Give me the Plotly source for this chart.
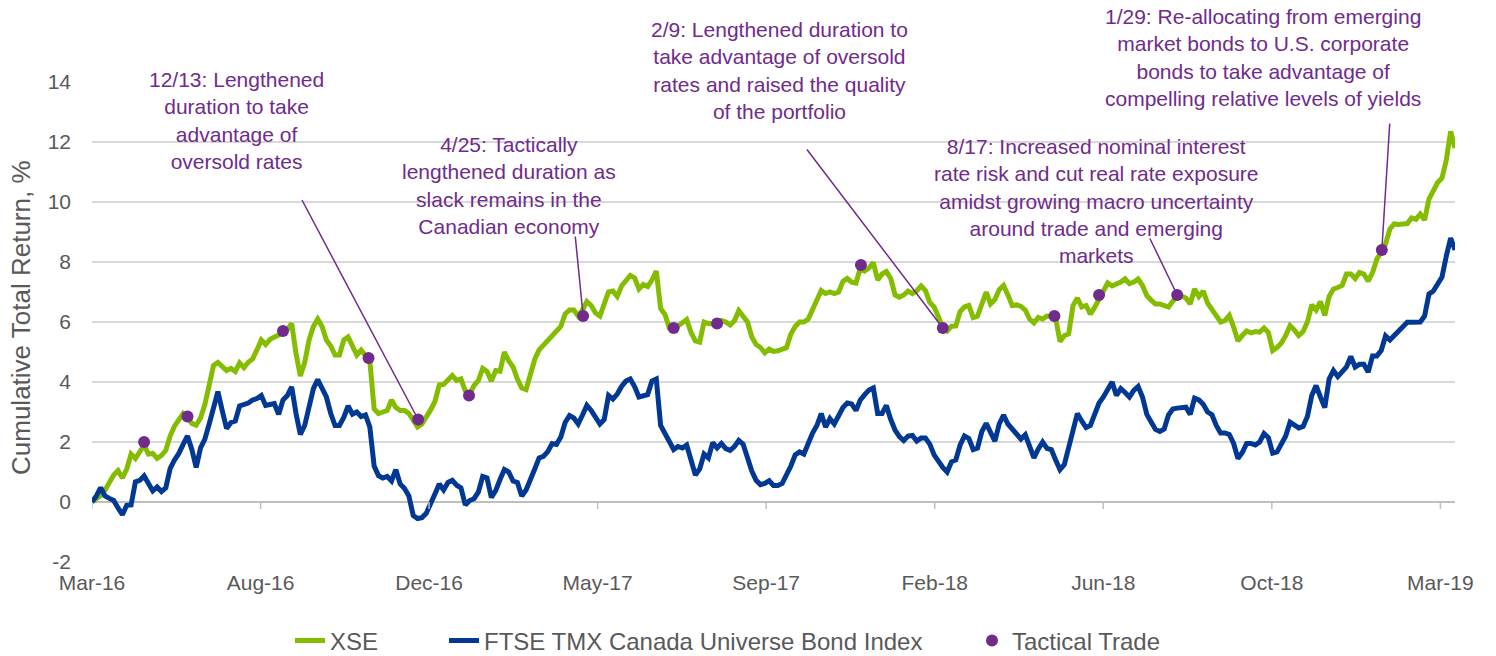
import pandas as pd
import plotly.graph_objects as go

# Twice-weekly cumulative total return, %, starting late March 2016
xse = [
    0.0, 0.1, 0.22, 0.4, 0.63, 0.9, 1.05, 0.8, 1.1, 1.6,
    1.45, 1.7, 1.9, 1.6, 1.62, 1.45, 1.55, 1.72, 2.2, 2.53,
    2.75, 2.95, 2.82, 2.62, 2.56, 2.8, 3.25, 4.0, 4.55, 4.65,
    4.5, 4.38, 4.45, 4.35, 4.64, 4.48, 4.66, 4.77, 5.07, 5.4,
    5.25, 5.42, 5.5, 5.55, 5.62, 5.75, 5.95, 4.95, 4.2, 4.65,
    5.4, 5.85, 6.1, 5.85, 5.4, 5.2, 4.9, 4.9, 5.4, 5.5,
    5.15, 4.9, 5.06, 4.9, 4.7, 3.1, 2.95, 3.0, 3.05, 3.4,
    3.15, 3.05, 3.05, 2.95, 2.72, 2.5, 2.6, 2.8, 3.07, 3.35,
    3.9, 3.92, 4.05, 4.22, 4.05, 4.1, 3.7, 3.6, 3.88, 4.05,
    4.45, 4.35, 4.03, 4.38, 4.36, 5.0, 4.7, 4.5, 4.1, 3.8,
    3.75, 4.28, 4.76, 5.07, 5.22, 5.37, 5.55, 5.65, 5.85, 6.27,
    6.4, 6.4, 6.2, 6.4, 6.68, 6.55, 6.3, 6.2, 6.6, 7.0,
    7.03, 6.85, 7.2, 7.38, 7.55, 7.47, 7.1, 7.25, 7.18, 7.4,
    7.7, 6.45, 6.25, 5.8, 5.77, 5.87, 5.98, 6.08, 5.65, 5.37,
    5.33, 6.0, 5.95, 5.93, 5.93, 6.05, 6.0, 5.9, 6.04, 6.38,
    6.18, 6.0, 5.5, 5.25, 5.15, 4.97, 5.1, 5.02, 5.04, 5.08,
    5.15, 5.6, 5.85, 6.0, 6.0, 6.1, 6.4, 6.7, 7.05, 6.95,
    7.0, 6.95, 7.0, 7.35, 7.45, 7.33, 7.3, 7.8, 7.7, 7.8,
    7.98, 7.4, 7.6, 7.68, 7.45, 6.9, 6.83, 6.9, 7.03, 6.95,
    7.04, 7.2, 7.05, 6.65, 6.5, 6.18, 5.8, 5.7, 5.86, 5.87,
    6.35, 6.5, 6.55, 6.15, 6.2, 6.6, 7.0, 6.6, 6.75, 7.08,
    7.22, 6.9, 6.55, 6.57, 6.52, 6.4, 6.1, 5.97, 6.15, 6.1,
    6.2, 6.18, 6.13, 5.35, 5.55, 5.6, 6.55, 6.8, 6.5, 6.55,
    6.26, 6.49, 6.75, 7.05, 7.3, 7.2, 7.25, 7.33, 7.44, 7.28,
    7.33, 7.43, 7.22, 6.88, 6.73, 6.6, 6.6, 6.55, 6.5, 6.7,
    6.85, 6.86, 6.8, 6.6, 7.1, 6.85, 7.03, 6.63, 6.43, 6.2,
    6.0, 6.05, 6.22, 5.83, 5.37, 5.55, 5.7, 5.64, 5.68, 5.66,
    5.8, 5.65, 5.05, 5.15, 5.3, 5.55, 5.88, 5.73, 5.55, 5.68,
    6.0, 6.57, 6.4, 6.68, 6.22, 6.85, 7.1, 7.15, 7.22, 7.6,
    7.6, 7.45, 7.65, 7.6, 7.36, 7.65, 8.1, 8.32, 8.6, 9.1,
    9.27, 9.25, 9.27, 9.28, 9.47, 9.42, 9.6, 9.4, 10.1, 10.38,
    10.65, 10.8, 11.4, 12.35, 11.8,
]

ftse = [
    0.0, 0.2, 0.48, 0.2, 0.12, 0.05, -0.2, -0.42, -0.11, -0.1,
    0.67, 0.72, 0.87, 0.65, 0.37, 0.5, 0.35, 0.47, 1.11, 1.4,
    1.62, 1.92, 2.2, 1.75, 1.15, 1.8, 2.1, 2.6, 3.2, 3.68,
    3.05, 2.45, 2.65, 2.7, 3.2, 3.25, 3.3, 3.4, 3.45, 3.55,
    3.22, 3.25, 3.28, 2.92, 3.4, 3.55, 3.84, 2.95, 2.25, 2.55,
    3.1, 3.78, 4.08, 3.78, 3.5, 2.95, 2.55, 2.55, 2.82, 3.2,
    2.93, 3.0, 2.85, 2.9, 2.5, 1.2, 0.88, 0.8, 0.85, 0.7,
    1.08, 0.6, 0.45, 0.2, -0.45, -0.55, -0.52, -0.38, 0.0, 0.27,
    0.6, 0.4, 0.65, 0.72, 0.56, 0.47, -0.1, 0.05, 0.11, 0.33,
    0.85, 0.8, 0.15, 0.38, 0.75, 1.08, 1.0, 0.7, 0.65, 0.2,
    0.4, 0.8, 1.1, 1.47, 1.52, 1.68, 1.95, 1.92, 2.17, 2.65,
    2.88, 2.8, 2.6, 2.9, 3.22, 3.05, 2.8, 2.6, 2.75, 3.55,
    3.43, 3.6, 3.85, 4.03, 4.1, 3.85, 3.5, 3.55, 3.58, 4.03,
    4.1, 2.55, 2.3, 2.0, 1.75, 1.85, 1.8, 1.9, 1.35, 0.9,
    1.1, 1.6, 1.47, 1.98, 1.8, 1.95, 1.78, 1.72, 1.85, 2.05,
    1.93, 1.45, 1.03, 0.72, 0.58, 0.62, 0.71, 0.55, 0.55, 0.62,
    0.9, 1.2, 1.57, 1.67, 1.6, 1.97, 2.3, 2.55, 2.95, 2.5,
    2.78, 2.6, 2.85, 3.15, 3.3, 3.27, 3.05, 3.4, 3.58, 3.73,
    3.8, 2.95, 2.95, 3.22, 2.75, 2.4, 2.18, 2.05, 2.2, 2.22,
    2.03, 2.13, 2.13, 1.93, 1.57, 1.35, 1.15, 1.0, 1.34, 1.4,
    1.9, 2.2, 2.12, 1.75, 1.8, 2.35, 2.62, 2.32, 2.03, 2.6,
    2.9, 2.6, 2.43, 2.3, 2.1, 2.24, 1.85, 1.47, 1.77, 2.0,
    1.79, 1.75, 1.4, 1.08, 1.25, 1.79, 2.4, 2.95, 2.7, 2.48,
    2.55, 2.9, 3.3, 3.5, 3.75, 4.0, 3.55, 3.78, 3.65, 3.5,
    3.72, 3.85, 3.5, 2.92, 2.67, 2.42, 2.35, 2.43, 2.9, 3.1,
    3.13, 3.15, 3.16, 2.92, 3.46, 3.4, 3.26, 3.0, 2.91, 2.55,
    2.3, 2.3, 2.25, 1.95, 1.45, 1.65, 1.95, 1.95, 1.9, 2.0,
    2.28, 2.15, 1.63, 1.67, 1.9, 2.2, 2.66, 2.56, 2.47, 2.52,
    2.85, 3.55, 3.88, 3.5, 3.15, 4.1, 4.38, 4.18, 4.37, 4.5,
    4.85, 4.5, 4.59, 4.59, 4.33, 4.87, 4.87, 5.05, 5.54, 5.4,
    5.55, 5.69, 5.85, 5.99, 5.99, 6.0, 6.0, 6.2, 6.93, 7.03,
    7.3, 7.5, 8.2, 8.8, 8.4,
]

dates = pd.date_range("2016-03-25", periods=len(xse), freq="84h")

# Tactical trades (date, cumulative return at the trade)
trade_dates = [
    "2016-05-06", "2016-06-10", "2016-08-26", "2016-11-03", "2016-12-13",
    "2017-01-23", "2017-04-25", "2017-07-07", "2017-08-11", "2017-12-05",
    "2018-02-09", "2018-05-10", "2018-06-15", "2018-08-17", "2019-01-29",
]
trade_values = [
    2.0, 2.85, 5.7, 4.8, 2.75,
    3.55, 6.2, 5.8, 5.95, 7.9,
    5.8, 6.2, 6.9, 6.9, 8.4,
]

tick_labels = ["Mar-16", "Aug-16", "Dec-16", "May-17", "Sep-17",
               "Feb-18", "Jun-18", "Oct-18", "Mar-19"]
tick_step_days = 135.9
tick_vals = [dates[0] + pd.Timedelta(days=tick_step_days * k) for k in range(len(tick_labels))]

y_ticks = [-2, 0, 2, 4, 6, 8, 10, 12, 14]
y_tick_labels = ["-2", "0", "2", "4", "6", "8", "10", "12", "14"]

GREEN = "#84BD00"
BLUE = "#003893"
PURPLE = "#702B8C"
GREY_TEXT = "#595959"
GRID = "#D9D9D9"
FONT = "Liberation Sans, Arial, sans-serif"

W, H = 1496, 656
M_L, M_R, M_T, M_B = 92, 41, 82, 94
PW, PH = W - M_L - M_R, H - M_T - M_B


def paper_x(px):
    return (px - M_L) / PW


def paper_y(py):
    return (H - M_B - py) / PH


fig = go.Figure()
fig.add_trace(go.Scatter(
    x=dates, y=xse, mode="lines", name="XSE",
    line=dict(color=GREEN, width=5), legend="legend",
))
fig.add_trace(go.Scatter(
    x=dates, y=ftse, mode="lines", name="FTSE TMX Canada Universe Bond Index",
    line=dict(color=BLUE, width=5), legend="legend2",
))
fig.add_trace(go.Scatter(
    x=pd.to_datetime(trade_dates), y=trade_values, mode="markers", name="Tactical Trade",
    marker=dict(color=PURPLE, size=12), legend="legend3",
))

# Trade commentary: (trade index, text, text centre in px, leader offset in px)
notes = [
    (4, "12/13: Lengthened<br>duration to take<br>advantage of<br>oversold rates",
     (236, 120), (-117, -221)),
    (6, "4/25: Tactically<br>lengthened duration as<br>slack remains in the<br>Canadian economy",
     (509, 185), (-8, -81)),
    (10, "2/9: Lengthened duration to<br>take advantage of oversold<br>rates and raised the quality<br>of the portfolio",
     (779, 70), (-137, -180)),
    (13, "8/17: Increased nominal interest<br>rate risk and cut real rate exposure<br>amidst growing macro uncertainty<br>around trade and emerging<br>markets",
     (1096, 201), (-28, -58)),
    (14, "1/29: Re-allocating from emerging<br>market bonds to U.S. corporate<br>bonds to take advantage of<br>compelling relative levels of yields",
     (1263, 58), (8, -128)),
]

annotations = []
for idx, text, (cx, cy), (ax, ay) in notes:
    annotations.append(dict(
        text=text, xref="paper", yref="paper", x=paper_x(cx), y=paper_y(cy),
        xanchor="center", yanchor="middle", showarrow=False, align="center",
        font=dict(family=FONT, size=21, color=PURPLE),
    ))
    annotations.append(dict(
        text="", x=pd.Timestamp(trade_dates[idx]), y=trade_values[idx],
        xref="x", yref="y", showarrow=True, arrowhead=0, arrowwidth=1.5,
        arrowcolor=PURPLE, ax=ax, ay=ay, axref="pixel", ayref="pixel",
    ))

annotations.append(dict(
    text="Cumulative Total Return, %", xref="paper", yref="paper",
    x=paper_x(21), y=paper_y(318), textangle=-90, showarrow=False,
    xanchor="center", yanchor="middle",
    font=dict(family=FONT, size=26, color=GREY_TEXT),
))

# small tick marks hanging from the zero line
shapes = [
    dict(type="line", xref="x", yref="y", x0=tv, x1=tv, ysizemode="pixel",
         yanchor=0, y0=0, y1=-7, line=dict(color="#BFBFBF", width=1.5))
    for tv in tick_vals
]

legend_common = dict(
    orientation="h", yanchor="middle", xanchor="left", y=paper_y(641),
    font=dict(family=FONT, size=24, color=GREY_TEXT),
    bgcolor="rgba(0,0,0,0)", itemwidth=30,
)

fig.update_layout(
    width=W, height=H,
    margin=dict(l=M_L, r=M_R, t=M_T, b=M_B, autoexpand=False),
    paper_bgcolor="white", plot_bgcolor="white",
    font=dict(family=FONT, size=21, color=GREY_TEXT),
    showlegend=True,
    legend=dict(x=paper_x(290), **legend_common),
    legend2=dict(x=paper_x(444), **legend_common),
    legend3=dict(x=paper_x(972), **legend_common),
    annotations=annotations,
    shapes=shapes,
    xaxis=dict(
        range=[dates[0], dates[-1]], tickvals=tick_vals, ticktext=tick_labels,
        showgrid=False, zeroline=False, showline=False, ticks="",
        tickfont=dict(family=FONT, size=21, color=GREY_TEXT),
        ticklabelstandoff=6,
    ),
    yaxis=dict(
        range=[-2, 14], tickvals=y_ticks, ticktext=y_tick_labels,
        showgrid=True, gridcolor=GRID, gridwidth=1.5,
        zeroline=True, zerolinecolor="#BFBFBF", zerolinewidth=1.5,
        showline=False, ticks="", ticklabelstandoff=20,
        tickfont=dict(family=FONT, size=21, color=GREY_TEXT),
    ),
)

fig.write_html("out.html", config={"displayModeBar": False})
